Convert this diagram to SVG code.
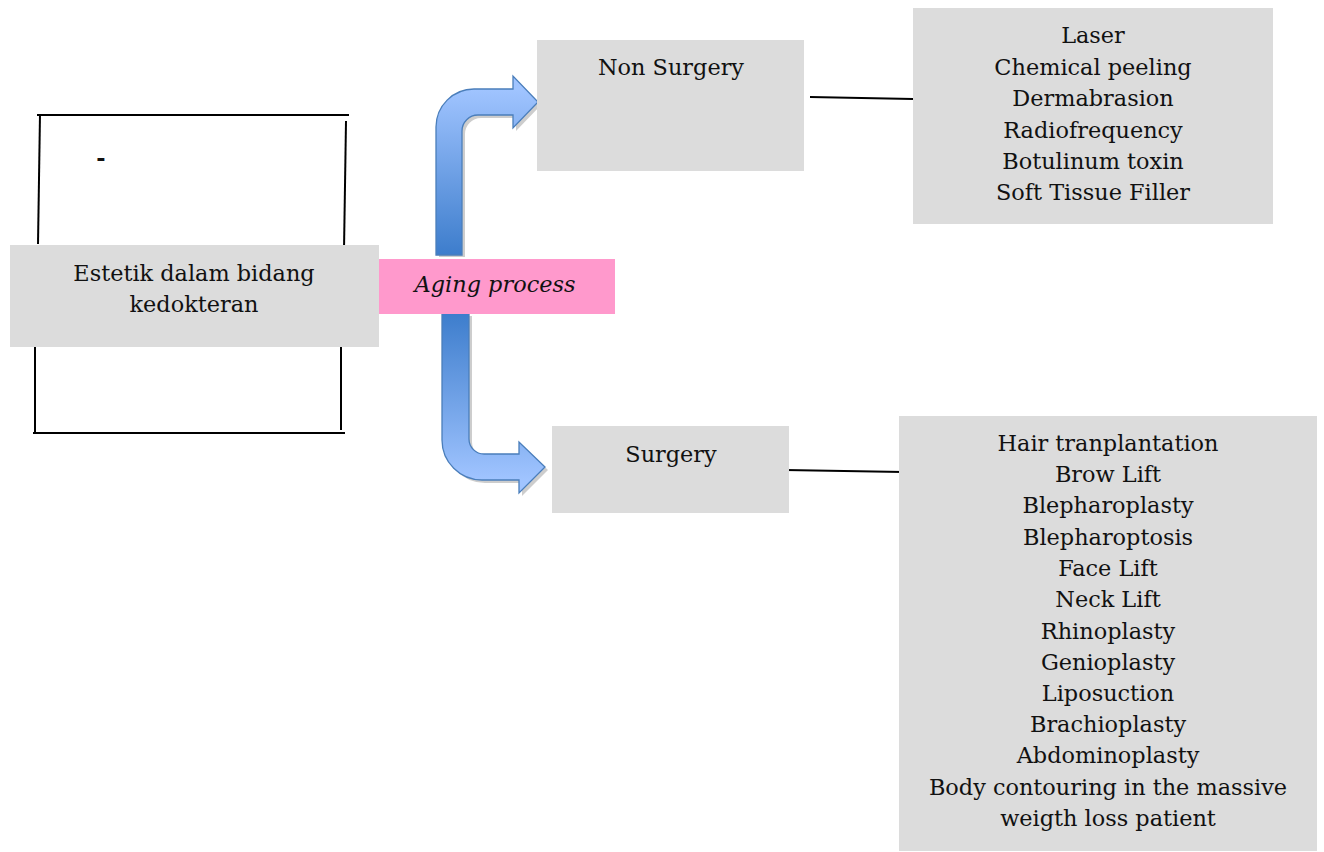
<svg xmlns="http://www.w3.org/2000/svg" width="1324" height="852" viewBox="0 0 1324 852">
<style>
.box{fill:#dcdcdc}
.t{font-family:"DejaVu Serif","Liberation Serif",serif;font-size:22.4px;fill:#111;text-anchor:middle}
.ln{stroke:#000;stroke-width:2;fill:none}
.arr{stroke:#4a7ebb;stroke-width:1.3}
.shadow{fill:#b8b8b8;opacity:0.7}
</style>
<defs>
<linearGradient id="gUp" x1="0" y1="89" x2="0" y2="255" gradientUnits="userSpaceOnUse">
<stop offset="0" stop-color="#a0c4ff"/>
<stop offset="1" stop-color="#3d7dcc"/>
</linearGradient>
<linearGradient id="gDown" x1="0" y1="313" x2="0" y2="480" gradientUnits="userSpaceOnUse">
<stop offset="0" stop-color="#3d7dcc"/>
<stop offset="1" stop-color="#a0c4ff"/>
</linearGradient>
</defs>
<rect width="1324" height="852" fill="#fff"/>

<g id="frame-lines">
<line class="ln" x1="37" y1="115" x2="349" y2="115"/>
<line class="ln" x1="40" y1="114" x2="38" y2="244"/>
<line class="ln" x1="346" y1="121" x2="344" y2="250"/>
<line class="ln" x1="35" y1="346" x2="35" y2="432"/>
<line class="ln" x1="341" y1="340" x2="341" y2="430"/>
<line class="ln" x1="33" y1="433" x2="345" y2="433"/>
<text class="t" x="101" y="166" font-weight="bold" font-size="24">-</text>
</g>

<g id="connectors">
<path class="shadow" d="M439,257 V130 A38,38 0 0 1 477,92 H516 V79 L541,105 L516,131 V118 H481 A16,16 0 0 0 465,134 V257 Z"/>
<path class="arr" fill="url(#gUp)" d="M436,255 V127 A38,38 0 0 1 474,89 H513 V76 L538,102 L513,128 V115 H478 A16,16 0 0 0 462,131 V255 Z"/>
<path class="shadow" d="M445,316 V443 A40,40 0 0 0 485,483 H522 V496 L548,470 L522,445 V457 H487 A15,15 0 0 1 472,442 V316 Z"/>
<path class="arr" fill="url(#gDown)" d="M442,313 V440 A40,40 0 0 0 482,480 H519 V493 L545,467 L519,442 V454 H484 A15,15 0 0 1 469,439 V313 Z"/>
<line class="ln" x1="810" y1="97" x2="913" y2="99"/>
<line class="ln" x1="785" y1="470" x2="903" y2="472"/>
</g>

<g id="estetik">
<rect class="box" x="10" y="245" width="369" height="102"/>
<text class="t" x="194" y="281">Estetik dalam bidang</text>
<text class="t" x="194" y="312">kedokteran</text>
</g>

<g id="aging">
<rect x="379" y="259" width="236" height="55" fill="#ff99cc"/>
<text class="t" x="495" y="292" font-style="italic">Aging process</text>
</g>

<g id="non-surgery">
<rect class="box" x="537" y="40" width="267" height="131"/>
<text class="t" x="671" y="75">Non Surgery</text>
</g>

<g id="surgery">
<rect class="box" x="552" y="426" width="237" height="87"/>
<text class="t" x="671" y="462">Surgery</text>
</g>

<g id="non-surgery-list">
<rect class="box" x="913" y="8" width="360" height="216"/>
<text class="t" x="1093" y="43">Laser</text>
<text class="t" x="1093" y="74.5">Chemical peeling</text>
<text class="t" x="1093" y="106">Dermabrasion</text>
<text class="t" x="1093" y="137.5">Radiofrequency</text>
<text class="t" x="1093" y="169">Botulinum toxin</text>
<text class="t" x="1093" y="200">Soft Tissue Filler</text>
</g>

<g id="surgery-list">
<rect class="box" x="899" y="416" width="418" height="435"/>
<text class="t" x="1108" y="451">Hair tranplantation</text>
<text class="t" x="1108" y="482">Brow Lift</text>
<text class="t" x="1108" y="513">Blepharoplasty</text>
<text class="t" x="1108" y="545">Blepharoptosis</text>
<text class="t" x="1108" y="576">Face Lift</text>
<text class="t" x="1108" y="607">Neck Lift</text>
<text class="t" x="1108" y="638.5">Rhinoplasty</text>
<text class="t" x="1108" y="670">Genioplasty</text>
<text class="t" x="1108" y="701">Liposuction</text>
<text class="t" x="1108" y="732">Brachioplasty</text>
<text class="t" x="1108" y="763">Abdominoplasty</text>
<text class="t" x="1108" y="794.5">Body contouring in the massive</text>
<text class="t" x="1108" y="825.5">weigth loss patient</text>
</g>
</svg>
